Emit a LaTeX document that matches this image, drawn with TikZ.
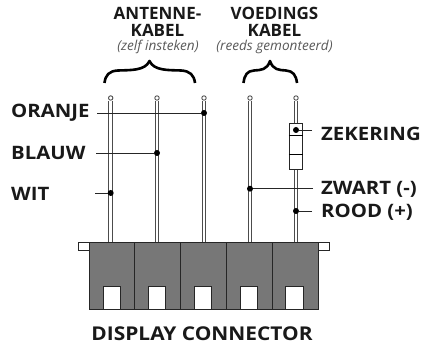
\documentclass[tikz,border=0pt]{standalone}
\usepackage{fontspec}
\setmainfont{Open Sans}
\newfontfamily\widefont[FakeStretch=1.1]{Open Sans}
\definecolor{connectorgray}{HTML}{777777}
\tikzset{
  wire/.style={draw=black!70,line width=1pt,double=white,double distance=2.6pt},
  wiretop/.style={circle,draw=black!70,fill=white,line width=0.9pt,inner sep=0pt,minimum size=4.4pt},
  dot/.style={circle,fill=black,inner sep=0pt,minimum size=6pt},
  leader/.style={draw=black!85,line width=0.9pt},
  cable/.style={font=\widefont\bfseries\fontsize{18.5}{20}\selectfont,text=black!90,inner sep=0pt,anchor=west},
  head/.style={font=\bfseries\fontsize{17}{18}\selectfont,text=black!90,inner sep=0pt},
  note/.style={font=\itshape\fontsize{13.6}{14}\selectfont,text=black!65,inner sep=0pt},
  bracket/.style={line width=2.6pt,line join=round},
  cell/.style={draw=black!85,fill=connectorgray,line width=0.9pt,inner sep=0pt,minimum width=46pt,minimum height=67pt},
  slot/.style={draw=black!85,fill=white,line width=0.9pt,inner sep=0pt,minimum width=17.5pt,minimum height=23pt},
  tab/.style={draw=black!85,fill=white,line width=0.9pt,inner sep=0pt,minimum width=11.5pt,minimum height=8.5pt}
}
\begin{document}
\begin{tikzpicture}[x=1pt,y=-1pt]
  \useasboundingbox (0,0) rectangle (429,344);
  \draw
    (157.5,13) node[head] (antenne){ANTENNE-}
    (157.5,30) node[head] (antkabel){KABEL}
    (158,46.5) node[note] (zelf){(zelf insteken)}
    (274.5,13) node[head] (voedings){VOEDINGS}
    (274.5,30) node[head] (voedkabel){KABEL}
    (274.5,46.5) node[note] (reeds){(reeds gemonteerd)}
    (202,334) node[font=\widefont\bfseries\fontsize{19}{20}\selectfont,text=black!90,inner sep=0pt] (display){DISPLAY CONNECTOR};
  \draw
    (11,113) node[cable] (oranje){ORANJE}
    (11,153) node[cable] (blauw){BLAUW}
    (11,194) node[cable] (wit){WIT}
    (321,134) node[cable] (zekering){ZEKERING}
    (321,189) node[cable] (zwart){ZWART (-)}
    (321,212) node[cable] (rood){ROOD (+)};
  % braces
  \draw[bracket] (104.5,83) .. controls (105.5,75) and (109,71) .. (118,70.5)
    .. controls (130,70) and (145,71) .. (149.5,61)
    .. controls (154,71) and (169,70) .. (181,70.5)
    .. controls (190,71) and (194,75) .. (195,83);
  \draw[bracket] (243.5,83) .. controls (244.5,75) and (247,71) .. (254,70.5)
    .. controls (261,70) and (267,70) .. (270,61)
    .. controls (273,70) and (279,70) .. (286,70.5)
    .. controls (293,71) and (296,75) .. (297,83);
  % connector
  \node[tab] (tabl) at (84,246.3) {};
  \node[tab] (tabr) at (323.5,246.3) {};
  \node[cell] (cell0) at (112.5,275.5) {};
  \node[cell] (cell1) at (157.5,275.5) {};
  \node[cell] (cell2) at (203.5,275.5) {};
  \node[cell] (cell3) at (249.5,275.5) {};
  \node[cell] (cell4) at (295,275.5) {};
  \node[slot] (slot0) at (112,297.5) {};
  \node[slot] (slot1) at (157,297.5) {};
  \node[slot] (slot2) at (203,297.5) {};
  \node[slot] (slot3) at (248.7,297.5) {};
  \node[slot] (slot4) at (294.5,297.5) {};
  % wires
  \draw
    (110.7,98) node[wiretop] (top0){}
    (157,98) node[wiretop] (top1){}
    (204,98) node[wiretop] (top2){}
    (250,98) node[wiretop] (top3){}
    (296,98) node[wiretop] (top4){};
  \coordinate (end0) at (110.7,242);
  \coordinate (end1) at (157,242);
  \coordinate (end2) at (204,242);
  \coordinate (end3) at (250,242);
  \coordinate (end4) at (296,242);
  \draw[wire] (top0.south) to (end0);
  \draw[wire] (top1.south) to (end1);
  \draw[wire] (top2.south) to (end2);
  \draw[wire] (top3.south) to (end3);
  \draw[wire] (top4.south) to (end4);
  % fuse
  \node[draw=black!85,fill=white,line width=0.9pt,inner sep=0pt,minimum width=13.5pt,minimum height=46pt] (fuse) at (296,146.3) {};
  \coordinate (fusea) at (fuse.west |- 0,135);
  \coordinate (fuseb) at (fuse.east |- 0,135);
  \coordinate (fusec) at (fuse.west |- 0,154);
  \coordinate (fused) at (fuse.east |- 0,154);
  \draw[line width=0.9pt] (fusea) to (fuseb);
  \draw[line width=0.9pt] (fusec) to (fused);
  % dots and leaders
  \draw
    (204,113) node[dot] (dotoranje){}
    (157,153) node[dot] (dotblauw){}
    (110.7,193) node[dot] (dotwit){}
    (296,130) node[dot] (dotzekering){}
    (250,188.7) node[dot] (dotzwart){}
    (296,211) node[dot] (dotrood){};
  \coordinate (lineoranje) at (97,113);
  \coordinate (lineblauw) at (96,153);
  \coordinate (linewit) at (95,193);
  \coordinate (linezekering) at (312,130);
  \coordinate (linezwart) at (313,188.7);
  \coordinate (linerood) at (312,211);
  \begin{scope}[leader]
    \draw (lineoranje) to (dotoranje);
    \draw (lineblauw) to (dotblauw);
    \draw (linewit) to (dotwit);
    \draw (linezekering) to (dotzekering);
    \draw (linezwart) to (dotzwart);
    \draw (linerood) to (dotrood);
  \end{scope}
\end{tikzpicture}
\end{document}
